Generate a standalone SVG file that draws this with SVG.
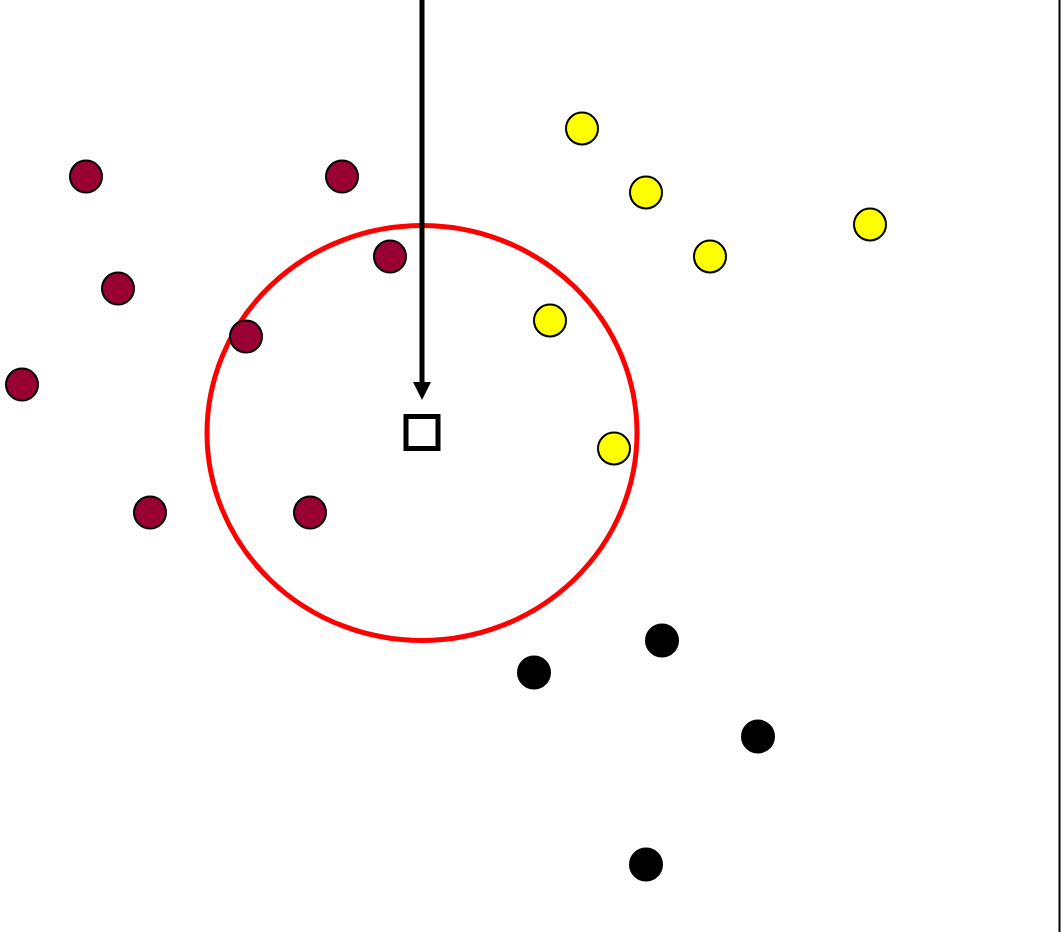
<svg xmlns="http://www.w3.org/2000/svg" width="1061" height="932" viewBox="0 0 1061 932">
<style>
.m{fill:#990033;stroke:#000;stroke-width:2}
.y{fill:#ffff00;stroke:#000;stroke-width:2}
.k{fill:#000;stroke:#000;stroke-width:2}
</style>
<defs>
<marker id="ah" markerWidth="18" markerHeight="18" refX="0" refY="9" orient="auto" markerUnits="userSpaceOnUse" viewBox="0 0 18 18">
<path d="M0,0 L18,9 L0,18 Z" fill="#000"/>
</marker>
</defs>
<rect width="1061" height="932" fill="#fff"/>
<g id="region"><ellipse cx="422" cy="433" rx="215" ry="207.5" fill="none" stroke="#ff0000" stroke-width="5"/></g>
<g id="maroon">
<circle class="m" cx="86" cy="176.5" r="16"/>
<circle class="m" cx="342" cy="176.5" r="16"/>
<circle class="m" cx="390" cy="256.5" r="16"/>
<circle class="m" cx="118" cy="288.5" r="16"/>
<circle class="m" cx="246" cy="336.5" r="16"/>
<circle class="m" cx="22" cy="384.5" r="16"/>
<circle class="m" cx="150" cy="512.5" r="16"/>
<circle class="m" cx="310" cy="512.5" r="16"/>
</g>
<g id="yellow">
<circle class="y" cx="582" cy="128.5" r="16"/>
<circle class="y" cx="646" cy="192.5" r="16"/>
<circle class="y" cx="870" cy="224.5" r="16"/>
<circle class="y" cx="710" cy="256.5" r="16"/>
<circle class="y" cx="550" cy="320.5" r="16"/>
<circle class="y" cx="614" cy="448.5" r="16"/>
</g>
<g id="black">
<circle class="k" cx="662" cy="640.5" r="16"/>
<circle class="k" cx="534" cy="672.5" r="16"/>
<circle class="k" cx="758" cy="736.5" r="16"/>
<circle class="k" cx="646" cy="864.5" r="16"/>
</g>
<g id="query"><rect x="406" y="416.5" width="32" height="32" fill="#fff" stroke="#000" stroke-width="5"/></g>
<g id="connectors">
<line x1="422" y1="0" x2="422" y2="382" stroke="#000" stroke-width="5" marker-end="url(#ah)"/>
<line x1="1059.5" y1="0" x2="1059.5" y2="932" stroke="#000" stroke-width="2"/>
</g>
</svg>
